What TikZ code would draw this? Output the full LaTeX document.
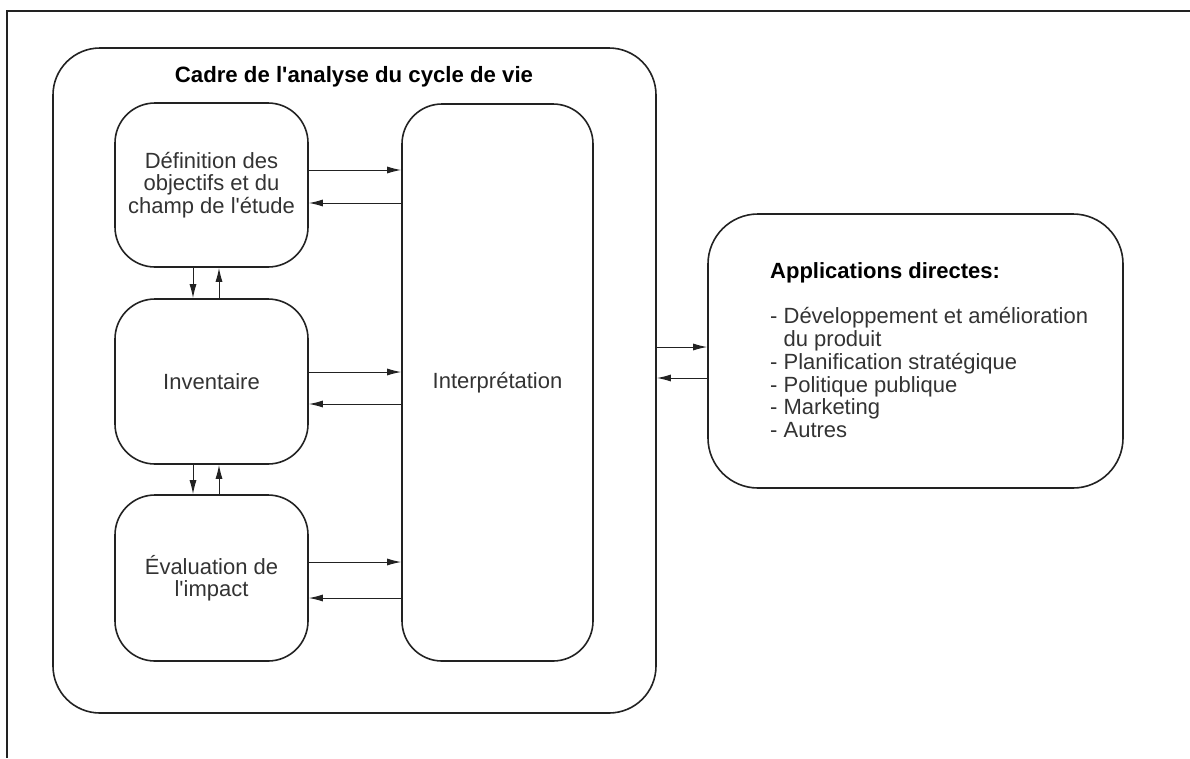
\documentclass[tikz,border=0pt]{standalone}
\usepackage{fontspec}
\setmainfont{Liberation Sans}
\usetikzlibrary{arrows.meta}
\definecolor{ln}{HTML}{222222}
\definecolor{tx}{HTML}{333333}
\newcommand{\apos}{\textquotesingle}
\begin{document}
\begin{tikzpicture}[x=1pt,y=-1pt,
  box/.style={draw=ln, line width=1.6pt, rounded corners=#1, inner sep=0pt,
    text=tx, align=center, font=\fontsize{22}{22.5}\selectfont},
  box/.default=40pt,
  arr/.style={draw=ln, line width=1pt, -{Latex[length=14pt,width=7pt]}}]
\useasboundingbox (0,0) rectangle (1190,758);
\draw[line width=1.8pt, ln] (1190,11) -- (7,11) -- (7,758);

\node[box=47pt, minimum width=603pt, minimum height=665pt] (cadre) at (354.5,380.5) {};
\node[font=\bfseries\fontsize{22.2}{23}\selectfont, anchor=base, text=black] (titre) at (354,82)
  {Cadre de l\apos analyse du cycle de vie};

\node[box, minimum width=193pt, minimum height=164pt] (def) at (211.5,185)
  {Définition des\\objectifs et du\\champ de l\apos étude};
\node[box, minimum width=193pt, minimum height=165pt] (inv) at (211.5,381.5) {Inventaire};
\node[box, minimum width=193pt, minimum height=166pt] (eva) at (211.5,578)
  {Évaluation de\\l\apos impact};
\node[box, minimum width=191pt, minimum height=557pt] (interp) at (497.5,382.5) {Interprétation};

\node[box=50pt, minimum width=415pt, minimum height=274pt] (app) at (915.5,351) {};
\node[anchor=north west, align=left, inner sep=0pt, text=tx,
  font=\fontsize{22}{22.8}\selectfont] (liste) at (770,262)
  {\textcolor{black}{\textbf{Applications directes:}}\\[22.8pt]
   - Développement et amélioration\\
   \hphantom{- }du produit\\
   - Planification stratégique\\
   - Politique publique\\
   - Marketing\\
   - Autres};

% definition <-> interpretation
\draw[arr] (def.east |- 0,170) -- (interp.west |- 0,170);
\draw[arr] (interp.west |- 0,203) -- (def.east |- 0,203);
\draw[arr] (inv.east |- 0,372) -- (interp.west |- 0,372);
\draw[arr] (interp.west |- 0,404) -- (inv.east |- 0,404);
\draw[arr] (eva.east |- 0,562) -- (interp.west |- 0,562);
\draw[arr] (interp.west |- 0,598) -- (eva.east |- 0,598);

% vertical
\draw[arr] (def.south -| 193,0) -- (inv.north -| 193,0);
\draw[arr] (inv.north -| 219,0) -- (def.south -| 219,0);
\draw[arr] (inv.south -| 193,0) -- (eva.north -| 193,0);
\draw[arr] (eva.north -| 219,0) -- (inv.south -| 219,0);

% cadre <-> applications
\draw[arr] (cadre.east |- 0,347) -- (app.west |- 0,347);
\draw[arr] (app.west |- 0,378) -- (cadre.east |- 0,378);
\end{tikzpicture}
\end{document}
